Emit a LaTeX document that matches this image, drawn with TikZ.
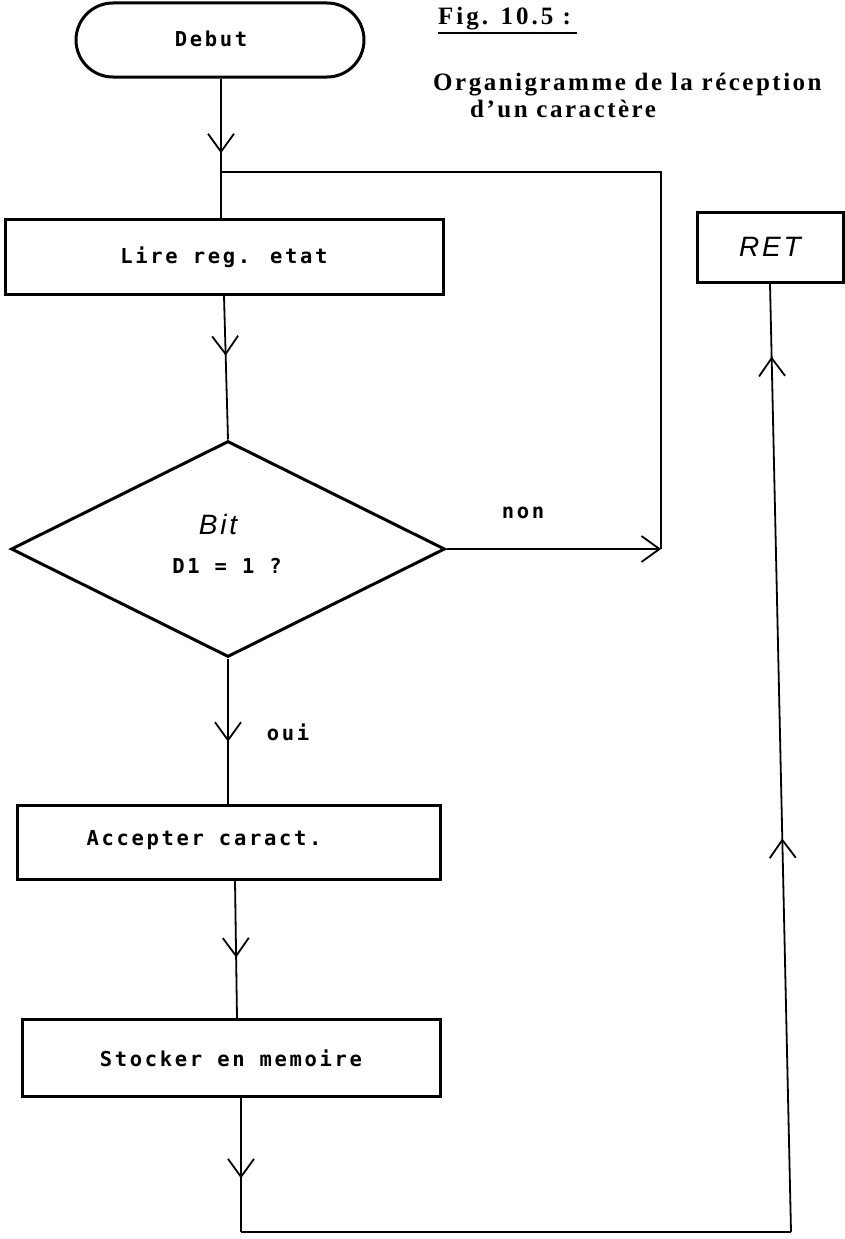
\documentclass[tikz,border=0pt]{standalone}
\usepackage{fontspec}
\setmainfont{Liberation Serif}
\newfontfamily\boxfont{DejaVu Sans Mono}[LetterSpace=13]
\newfontfamily\handfont{Liberation Sans}[LetterSpace=10]
\newfontfamily\titlefont{Liberation Serif}[LetterSpace=10]
\newfontfamily\figfont{Liberation Serif}[LetterSpace=12]
\usetikzlibrary{shapes.geometric,arrows.meta,decorations.markings}
\tikzset{
  conn/.style={line width=1.8pt},
  shapebox/.style={draw, line width=3pt, inner sep=0pt},
  boxlabel/.style={font=\boxfont\bfseries\fontsize{20.5}{24}\selectfont, inner sep=0pt},
  handlabel/.style={font=\handfont\itshape\fontsize{28}{32}\selectfont},
  titlelabel/.style={font=\titlefont\bfseries\fontsize{25}{30}\selectfont, inner sep=0pt},
  figlabel/.style={font=\figfont\bfseries\fontsize{25}{30}\selectfont, inner sep=0pt},
  barb/.tip={Straight Barb[length=18pt,width=26pt]},
  endarrow/.style={-barb},
  arrowat/.style={postaction={decorate},
    decoration={markings, mark=at position #1 with {\arrow{barb}}}},
  twoarrows/.style 2 args={postaction={decorate},
    decoration={markings, mark=at position #1 with {\arrow{barb}},
                          mark=at position #2 with {\arrow{barb}}}}
}
\begin{document}
\begin{tikzpicture}[x=1pt,y=-1pt]
\useasboundingbox (0,0) rectangle (845,1239);
% title
\node[figlabel, anchor=base west] (fig) at (438,25) {Fig. 10.5 :};
\draw[line width=1.2pt] (438,33) -- (577,33);
\node[titlelabel, anchor=base west] (org) at (433,90) {Organigramme de la réception};
\node[titlelabel, anchor=base west] (dun) at (470,117) {d’un caractère};
% nodes
\node[shapebox, rounded corners=37pt, minimum width=288, minimum height=74] (debut) at (220,40) {};
\node[boxlabel] (debutt) at (211,39) {Debut};
\node[shapebox, minimum width=438, minimum height=75, boxlabel] (lire) at (224,257) {Lire reg. etat};
\node[shapebox, diamond, minimum width=434, minimum height=216] (dia) at (228,549) {};
\node[handlabel] (bit) at (218,524) {Bit};
\node[boxlabel] (d1) at (227,566) {D1 = 1 ?};
\node[shapebox, minimum width=423, minimum height=74] (acc) at (229,842) {};
\node[boxlabel] (acct) at (204,840) {Accepter caract.};
\node[shapebox, minimum width=418, minimum height=77, boxlabel] (sto) at (231,1058) {Stocker en memoire};
\node[shapebox, minimum width=146, minimum height=70, handlabel, inner sep=0pt] (ret) at (770,247) {RET};
\node[boxlabel] (non) at (523,513) {non};
\node[boxlabel] (oui) at (288,732) {oui};
% coordinates
\coordinate (join) at (221,172);
\coordinate (nonc) at (661,549);
\coordinate (bl) at (241,1232);
\coordinate (br) at (791,1232);
% connectors
\draw[conn, arrowat=0.8] (debut.south -| join) -- (join);
\draw[conn] (join) -- (join |- lire.north);
\draw[conn, arrowat=0.415] (lire.south) -- (dia.north);
\draw[conn, endarrow] (dia.east) -- (nonc);
\draw[conn] (nonc) |- (join);
\draw[conn, arrowat=0.574] (dia.south) -- (dia.south |- acc.north);
\draw[conn, arrowat=0.56] (acc.south -| 235,0) -- (sto.north -| 237,0);
\draw[conn, arrowat=0.6] (bl |- sto.south) -- (bl);
\draw[conn] (bl) -- (br);
\draw[conn, twoarrows={0.415}{0.923}] (br) -- (ret.south);
\end{tikzpicture}
\end{document}
